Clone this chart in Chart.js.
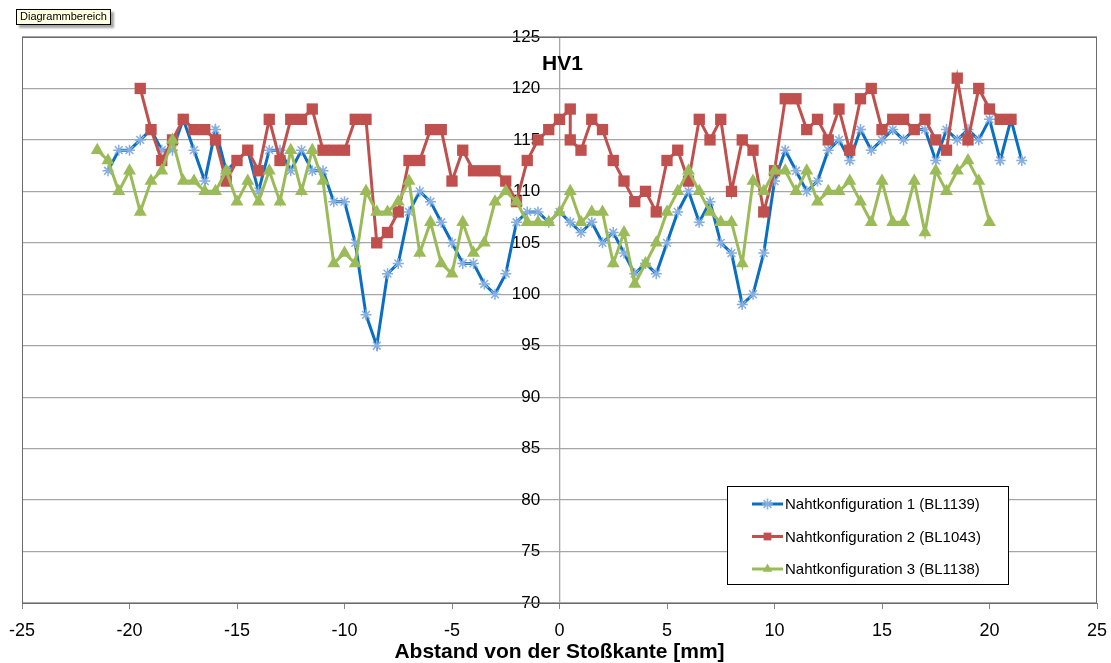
<!DOCTYPE html>
<html lang="de">
<head>
<meta charset="utf-8">
<title>HV1</title>
<script src="https://cdn.jsdelivr.net/npm/chart.js@4.4.1/dist/chart.umd.min.js"></script>
<style>
  html, body { margin: 0; padding: 0; background: #fff; }
  #wrap { position: relative; width: 1111px; height: 663px; }
  #tip {
    position: absolute; left: 16px; top: 9px;
    padding: 0 3px; height: 14px; line-height: 14px;
    border: 1px solid #000; background: #ffffe1;
    font: 11px "Liberation Sans", Arial, sans-serif; color: #000;
    box-shadow: 3px 3px 2px rgba(0,0,0,0.35);
  }
</style>
</head>
<body>
<div id="wrap">
  <canvas id="chart" width="1111" height="663"></canvas>
  <div id="tip">Diagrammbereich</div>
</div>
<script>
// Messpunkte (Abstand in mm) und Haerte HV1
const xBlau = [-21,-20.5,-20,-19.5,-19,-18.5,-18,-17.5,-17,-16.5,-16,-15.5,-15,-14.5,-14,-13.5,-13,-12.5,-12,-11.5,
  -11,-10.5,-10,-9.5,-9,-8.5,-8,-7.5,-7,-6.5,-6,-5.5,-5,-4.5,-4,-3.5,-3,-2.5,-2,-1.5,-1,-0.5,0,0.5,1,1.5,2,2.5,3,3.5,
  4,4.5,5,5.5,6,6.5,7,7.5,8,8.5,9,9.5,10,10.5,11,11.5,12,12.5,13,13.5,14,14.5,15,15.5,16,16.5,17,17.5,18,18.5,
  19,19.5,20,20.5,21,21.5];
const hvBlau = [112,114,114,115,116,114,114,117,114,111, 116,112,113,114,110,114,114,112,114,112,
  112,109,109,105,98,95,102,103,108,110, 109,107,105,103,103,101,100,102,107,108,
  108,107,108,107,106,107,105,106,104,102, 103,102,105,108,110,107,109,105,104,99,
  100,104,111,114,112,110,111,114,115,113, 116,114,115,116,115,116,116,113,116,115,
  116,115,117,113,117,113];

const xRot = [-19.5,-19,-18.5,-18,-17.5,-17,-16.5,-16,-15.5,-15,-14.5,-14,-13.5,-13,-12.5,-12,-11.5,-11,-10.5,-10,
  -9.5,-9,-8.5,-8,-7.5,-7,-6.5,-6,-5.5,-5,-4.5,-4,-3.5,-3,-2.5,-2,-1.5,-1,-0.5,0,0.5,
  0.5,1,1.5,2,2.5,3,3.5,4,4.5,5,5.5,6,6.5,7,7.5,8,8.5,9,9.5,10,10.5,11,11.5,12,12.5,13,13.5,14,14.5,
  15,15.5,16,16.5,17,17.5,18,18.5,19,19.5,20,20.5,21];
const hvRot = [120,116,113,115,117,116,116,115,111,113, 114,112,117,113,117,117,118,114,114,114,
  117,117,105,106,108,113,113,116,116,111, 114,112,112,112,111,109,113,115,116,117, 118,
  115,114,117,116,113,111,109,110,108, 113,114,111,117,115,117,110,115,114,108,
  112,119,119,116,117,115,118,114,119,120, 116,117,117,116,117,115,114,121,115,120,
  118,117,117];

const xGruen = [-21.5,-21,-20.5,-20,-19.5,-19,-18.5,-18,-17.5,-17,-16.5,-16,-15.5,-15,-14.5,-14,-13.5,-13,-12.5,-12,
  -11.5,-11,-10.5,-10,-9.5,-9,-8.5,-8,-7.5,-7,-6.5,-6,-5.5,-5,-4.5,-4,-3.5,-3,-2.5,-2,-1.5,-1,-0.5,0,0.5,1,1.5,2,2.5,3,
  3.5,4,4.5,5,5.5,6,6.5,7,7.5,8,8.5,9,9.5,10,10.5,11,11.5,12,12.5,13,13.5,14,14.5,15,15.5,16,16.5,17,17.5,18,
  18.5,19,19.5,20];
const hvGruen = [114,113,110,112,108,111,112,115,111,111, 110,110,112,109,111,109,112,109,114,110,
  114,111,103,104,103,110,108,108,109,111, 104,107,103,102,107,104,105,109,110,109,
  107,107,107,108,110,107,108,108,103,106, 101,103,105,108,110,112,110,108,107,107,
  103,111,110,112,112,110,112,109,110,110, 111,109,107,111,107,107,111,106,112,110,
  112,113,111,107];

const serienNamen = ["Nahtkonfiguration 1 (BL1139)", "Nahtkonfiguration 2 (BL1043)", "Nahtkonfiguration 3 (BL1138)"];
const xTicks = { min: -25, max: 25, schritt: 5 };
const yTicks = { min: 70, max: 125, schritt: 5 };

const schrift = '"Liberation Sans", Arial, sans-serif';

function punkte(xs, ys) {
  return xs.map((x, i) => ({ x: x, y: ys[i] }));
}

const serien = [
  { label: serienNamen[0], data: punkte(xBlau, hvBlau), borderColor: "#0a6fc2",
    pointStyle: "star", pointRadius: 5.5, pointBorderColor: "#86aee0", pointBackgroundColor: "#86aee0",
    pointBorderWidth: 1.5, order: 3 },
  { label: serienNamen[1], data: punkte(xRot, hvRot), borderColor: "#c0504d",
    pointStyle: "rect", pointRadius: 8, pointBorderColor: "#c0504d", pointBackgroundColor: "#c0504d",
    pointBorderWidth: 0, order: 2 },
  { label: serienNamen[2], data: punkte(xGruen, hvGruen), borderColor: "#9bbb59",
    pointStyle: "triangle", pointRadius: 7.5, pointBorderColor: "#9bbb59", pointBackgroundColor: "#9bbb59",
    pointBorderWidth: 0, order: 1 }
];
serien.forEach(s => { s.borderWidth = 3; s.tension = 0; s.fill = false; });

// Rahmen, Titel "HV1" und Legende im Diagramm
const extras = {
  id: "extras",
  afterDraw(chart) {
    const { ctx, chartArea: a } = chart;
    ctx.save();
    ctx.strokeStyle = "#6b6b6b";
    ctx.lineWidth = 1;
    ctx.strokeRect(Math.round(a.left) + 0.5, Math.round(a.top) + 0.5,
      Math.round(a.right - a.left) - 1, Math.round(a.bottom - a.top));

    ctx.fillStyle = "#000";
    ctx.font = "bold 21px " + schrift;
    ctx.textAlign = "center";
    ctx.textBaseline = "middle";
    ctx.fillText("HV1", chart.scales.x.getPixelForValue(0) + 3, 64);

    // Legende
    const lx = 727, ly = 486, lw = 281, lh = 98;
    ctx.fillStyle = "#fff";
    ctx.fillRect(lx, ly, lw, lh);
    ctx.strokeStyle = "#000";
    ctx.strokeRect(lx + 0.5, ly + 0.5, lw, lh);
    ctx.font = "15px " + schrift;
    ctx.textAlign = "left";
    serien.forEach((s, i) => {
      const y = ly + 18 + i * 32.5;
      ctx.strokeStyle = s.borderColor;
      ctx.lineWidth = 3;
      ctx.beginPath();
      ctx.moveTo(752, y);
      ctx.lineTo(783, y);
      ctx.stroke();
      ctx.fillStyle = s.pointBackgroundColor;
      ctx.strokeStyle = s.pointBorderColor;
      ctx.lineWidth = s.pointBorderWidth || 1;
      Chart.helpers.drawPoint(ctx, {
        pointStyle: s.pointStyle,
        radius: 5.5,
        rotation: 0,
        borderWidth: s.pointBorderWidth
      }, 767.5, y);
      ctx.fillStyle = "#000";
      ctx.fillText(s.label, 785, y + 1);
    });
    ctx.restore();
  }
};

new Chart(document.getElementById("chart"), {
  type: "line",
  data: { datasets: serien },
  options: {
    responsive: false,
    animation: false,
    layout: { padding: { left: 22, right: 14, top: 37, bottom: 0 } },
    plugins: { legend: { display: false }, tooltip: { enabled: false } },
    scales: {
      x: {
        type: "linear",
        position: "bottom",
        min: xTicks.min,
        max: xTicks.max,
        ticks: { stepSize: xTicks.schritt, color: "#000", padding: 11, font: { family: schrift, size: 18 } },
        grid: { drawOnChartArea: false, drawTicks: true, tickLength: 6, color: "#888" },
        border: { color: "#888" },
        title: {
          display: true, text: "Abstand von der Stoßkante [mm]", color: "#000",
          font: { family: schrift, size: 21, weight: "bold" }, padding: { top: 0, bottom: -2 }
        },
        afterFit: s => { s.height = 60; s.paddingLeft = 0; s.paddingRight = 0; }
      },
      y: {
        type: "linear",
        position: { x: 0 },
        min: yTicks.min,
        max: yTicks.max,
        ticks: { display: false, stepSize: yTicks.schritt },
        grid: { color: "#a6a6a6", lineWidth: 1.3, drawTicks: false },
        border: { color: "#a6a6a6", width: 1.3 }
      },
      // Beschriftung der y-Achse links neben der Achse bei x = 0
      yText: {
        type: "linear",
        position: { x: -0.9 },
        min: yTicks.min,
        max: yTicks.max,
        ticks: { stepSize: yTicks.schritt, color: "#000", font: { family: schrift, size: 17 } },
        grid: { display: false },
        border: { display: false }
      }
    }
  },
  plugins: [extras]
});
</script>
</body>
</html>
